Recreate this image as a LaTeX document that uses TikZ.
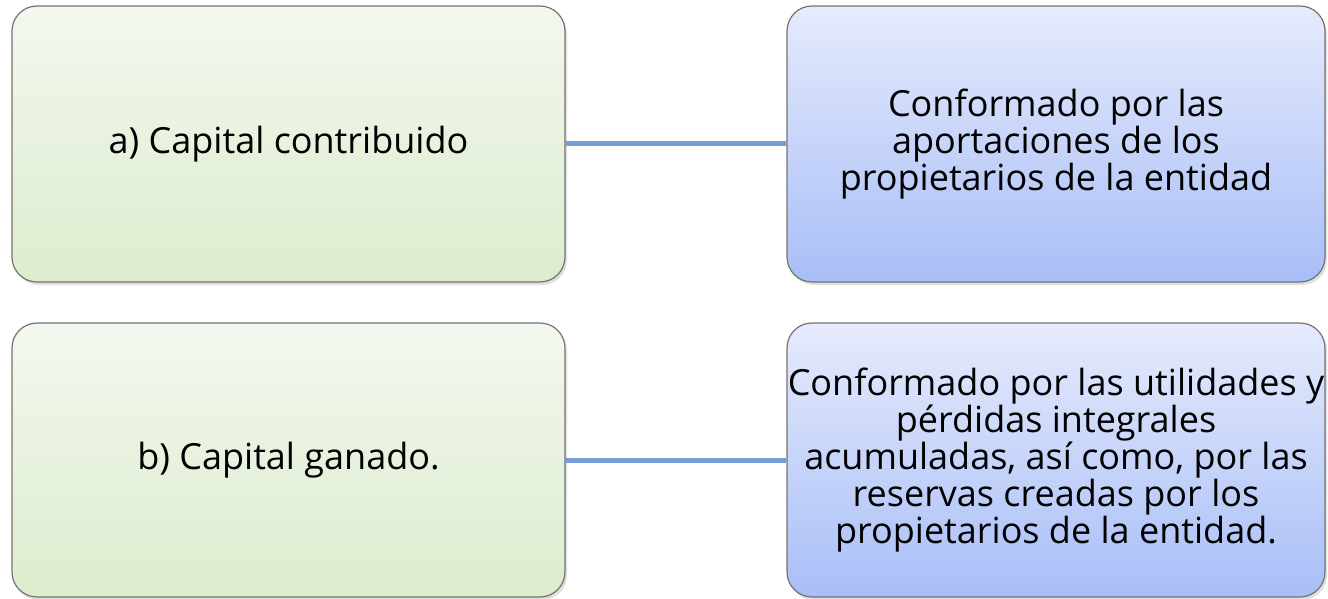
\documentclass[tikz,border=0pt]{standalone}
\usepackage{fontspec}
\setmainfont{Open Sans}
\usetikzlibrary{shadows}

\definecolor{greentop}{RGB}{243,248,239}
\definecolor{greenbot}{RGB}{220,236,206}
\definecolor{bluetop}{RGB}{230,235,252}
\definecolor{bluebot}{RGB}{168,190,247}
\definecolor{linkblue}{RGB}{120,157,214}

\tikzset{
    greenbox/.style={draw=gray!90!black, line width=0.6pt, rounded corners=12.5pt,
        top color=greentop, bottom color=greenbot,
        drop shadow={shadow xshift=1pt, shadow yshift=-1.5pt, opacity=0.25},
        minimum width=276.5pt, minimum height=138pt, align=center,
        font=\fontsize{18}{18.5}\selectfont},
    bluebox/.style={greenbox, top color=bluetop, bottom color=bluebot,
        minimum width=269pt},
    link/.style={draw=linkblue, line width=2.5pt}
}

\begin{document}
\begin{tikzpicture}[x=0.5pt,y=-0.5pt]
    \useasboundingbox (0,0) rectangle (1328,599);
    % left column
    \node[greenbox] (contrib) at (288.5,144) {a) Capital contribuido};
    \node[greenbox, minimum height=137pt] (ganado) at (288.5,460) {b) Capital ganado.};
    % right column
    \node[bluebox] (aport) at (1056,144)
        {Conformado por las\\aportaciones de los\\propietarios de la entidad};
    \node[bluebox, minimum height=137pt] (utilid) at (1056,460)
        {\makebox[240pt]{Conformado por las utilidades y}\\p\'erdidas integrales\\acumuladas, as\'i como, por las\\reservas creadas por los\\propietarios de la entidad.};
    \draw[link] (contrib) -- (aport);
    \draw[link] (ganado) -- (utilid);
\end{tikzpicture}
\end{document}
